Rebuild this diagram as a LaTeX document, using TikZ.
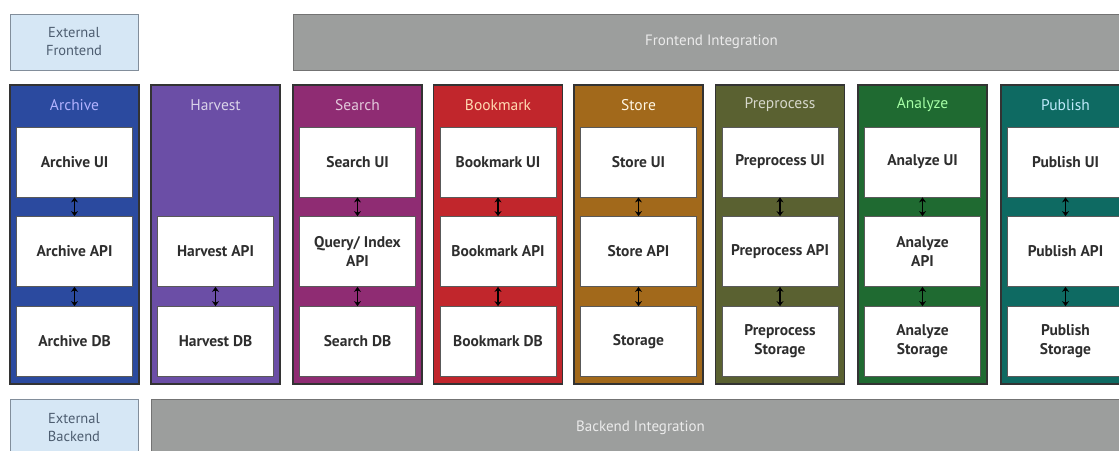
\documentclass[tikz,border=0pt]{standalone}
\usepackage{fontspec}
\setmainfont{PT Sans}
\usetikzlibrary{arrows.meta}

\definecolor{archivec}{HTML}{2B4A9F}
\definecolor{harvestc}{HTML}{6B4EA6}
\definecolor{searchc}{HTML}{8F2C73}
\definecolor{bookmarkc}{HTML}{C1262C}
\definecolor{storec}{HTML}{A2691B}
\definecolor{preprocessc}{HTML}{5A6131}
\definecolor{analyzec}{HTML}{1F6A31}
\definecolor{publishc}{HTML}{0E6A62}
\definecolor{integc}{HTML}{9C9E9D}
\definecolor{extc}{HTML}{D6E7F5}
\definecolor{extt}{HTML}{4D5D70}

\tikzstyle{column}=[rectangle,draw=black!80,line width=1.2pt,minimum width=129pt,minimum height=299pt,inner sep=0pt]
\tikzstyle{title}=[font=\fontsize{15.5}{18}\selectfont]
\tikzstyle{part}=[rectangle,fill=white,draw=black!65,line width=0.8pt,minimum width=116pt,minimum height=70pt,inner sep=2pt,align=center,text=black!82,font=\bfseries\fontsize{15.5}{19}\selectfont]
\tikzstyle{integ}=[rectangle,fill=integc,draw=black!55,line width=1pt,inner sep=0pt,text=white!92!black,font=\fontsize{15}{18}\selectfont]
\tikzstyle{ext}=[rectangle,fill=extc,draw=extt!70,line width=1pt,inner sep=0pt,align=center,text=extt,font=\fontsize{14.5}{18}\selectfont,minimum width=128pt]
\tikzstyle{link}=[draw,line width=1.3pt,{Stealth[length=5pt,width=7pt]}-{Stealth[length=5pt,width=7pt]}]

\begin{document}
\begin{tikzpicture}[x=1pt,y=-1pt]
\useasboundingbox (0,0) rectangle (1119,450);
\clip (0,0) rectangle (1119,450);
\fill[white] (0,0) rectangle (1119,450);

% top and bottom bars
\node[ext,minimum height=56pt] (01) at (74,42) {External\\Frontend};
\node[integ,minimum width=837pt,minimum height=56pt] (02) at (711.5,42) {Frontend Integration};
\node[ext,minimum height=58pt] (03) at (74,428) {External\\Backend};
\node[integ,minimum width=979pt,minimum height=58pt] (04) at (640.5,428) {Backend Integration};

% Archive
\node[column,fill=archivec] (10) at (74.5,234.5) {};
\node[title,text=blue!30!white] (11) at (74.5,105) {Archive};
\node[part] (12) at (74.5,162) {Archive UI};
\node[part] (13) at (74.5,251.5) {Archive API};
\node[part] (14) at (74.5,341.5) {Archive DB};
\path[link] (12) -- (13);
\path[link] (13) -- (14);

% Harvest
\node[column,fill=harvestc] (20) at (215.5,234.5) {};
\node[title,text=harvestc!25!white] (21) at (215.5,105) {Harvest};
\node[part] (23) at (215.5,251.5) {Harvest API};
\node[part] (24) at (215.5,341.5) {Harvest DB};
\path[link] (23) -- (24);

% Search
\node[column,fill=searchc] (30) at (357.5,234.5) {};
\node[title,text=searchc!25!white] (31) at (357.5,105) {Search};
\node[part] (32) at (357.5,162) {Search UI};
\node[part] (33) at (357.5,251.5) {Query/ Index\\API};
\node[part] (34) at (357.5,341.5) {Search DB};
\path[link] (32) -- (33);
\path[link] (33) -- (34);

% Bookmark
\node[column,fill=bookmarkc] (40) at (498,234.5) {};
\node[title,text=orange!30!white] (41) at (498,105) {Bookmark};
\node[part] (42) at (498,162) {Bookmark UI};
\node[part] (43) at (498,251.5) {Bookmark API};
\node[part] (44) at (498,341.5) {Bookmark DB};
\path[link] (42) -- (43);
\path[link] (43) -- (44);

% Store
\node[column,fill=storec] (50) at (638.5,234.5) {};
\node[title,text=yellow!40!orange!10!white] (51) at (638.5,105) {Store};
\node[part] (52) at (638.5,162) {Store UI};
\node[part] (53) at (638.5,251.5) {Store API};
\node[part] (54) at (638.5,341.5) {Storage};
\path[link] (52) -- (53);
\path[link] (53) -- (54);

% Preprocess
\node[column,fill=preprocessc] (60) at (780,234.5) {};
\node[title,text=preprocessc!25!white] (61) at (780,105) {Preprocess};
\node[part] (62) at (780,162) {Preprocess UI};
\node[part] (63) at (780,251.5) {Preprocess API};
\node[part] (64) at (780,341.5) {Preprocess\\Storage};
\path[link] (62) -- (63);
\path[link] (63) -- (64);

% Analyze
\node[column,fill=analyzec] (70) at (922.5,234.5) {};
\node[title,text=green!35!white] (71) at (922.5,105) {Analyze};
\node[part] (72) at (922.5,162) {Analyze UI};
\node[part] (73) at (922.5,251.5) {Analyze\\API};
\node[part] (74) at (922.5,341.5) {Analyze\\Storage};
\path[link] (72) -- (73);
\path[link] (73) -- (74);

% Publish
\node[column,fill=publishc] (80) at (1065.5,234.5) {};
\node[title,text=cyan!25!white] (81) at (1065.5,105) {Publish};
\node[part] (82) at (1065.5,162) {Publish UI};
\node[part] (83) at (1065.5,251.5) {Publish API};
\node[part] (84) at (1065.5,341.5) {Publish\\Storage};
\path[link] (82) -- (83);
\path[link] (83) -- (84);
\end{tikzpicture}
\end{document}
